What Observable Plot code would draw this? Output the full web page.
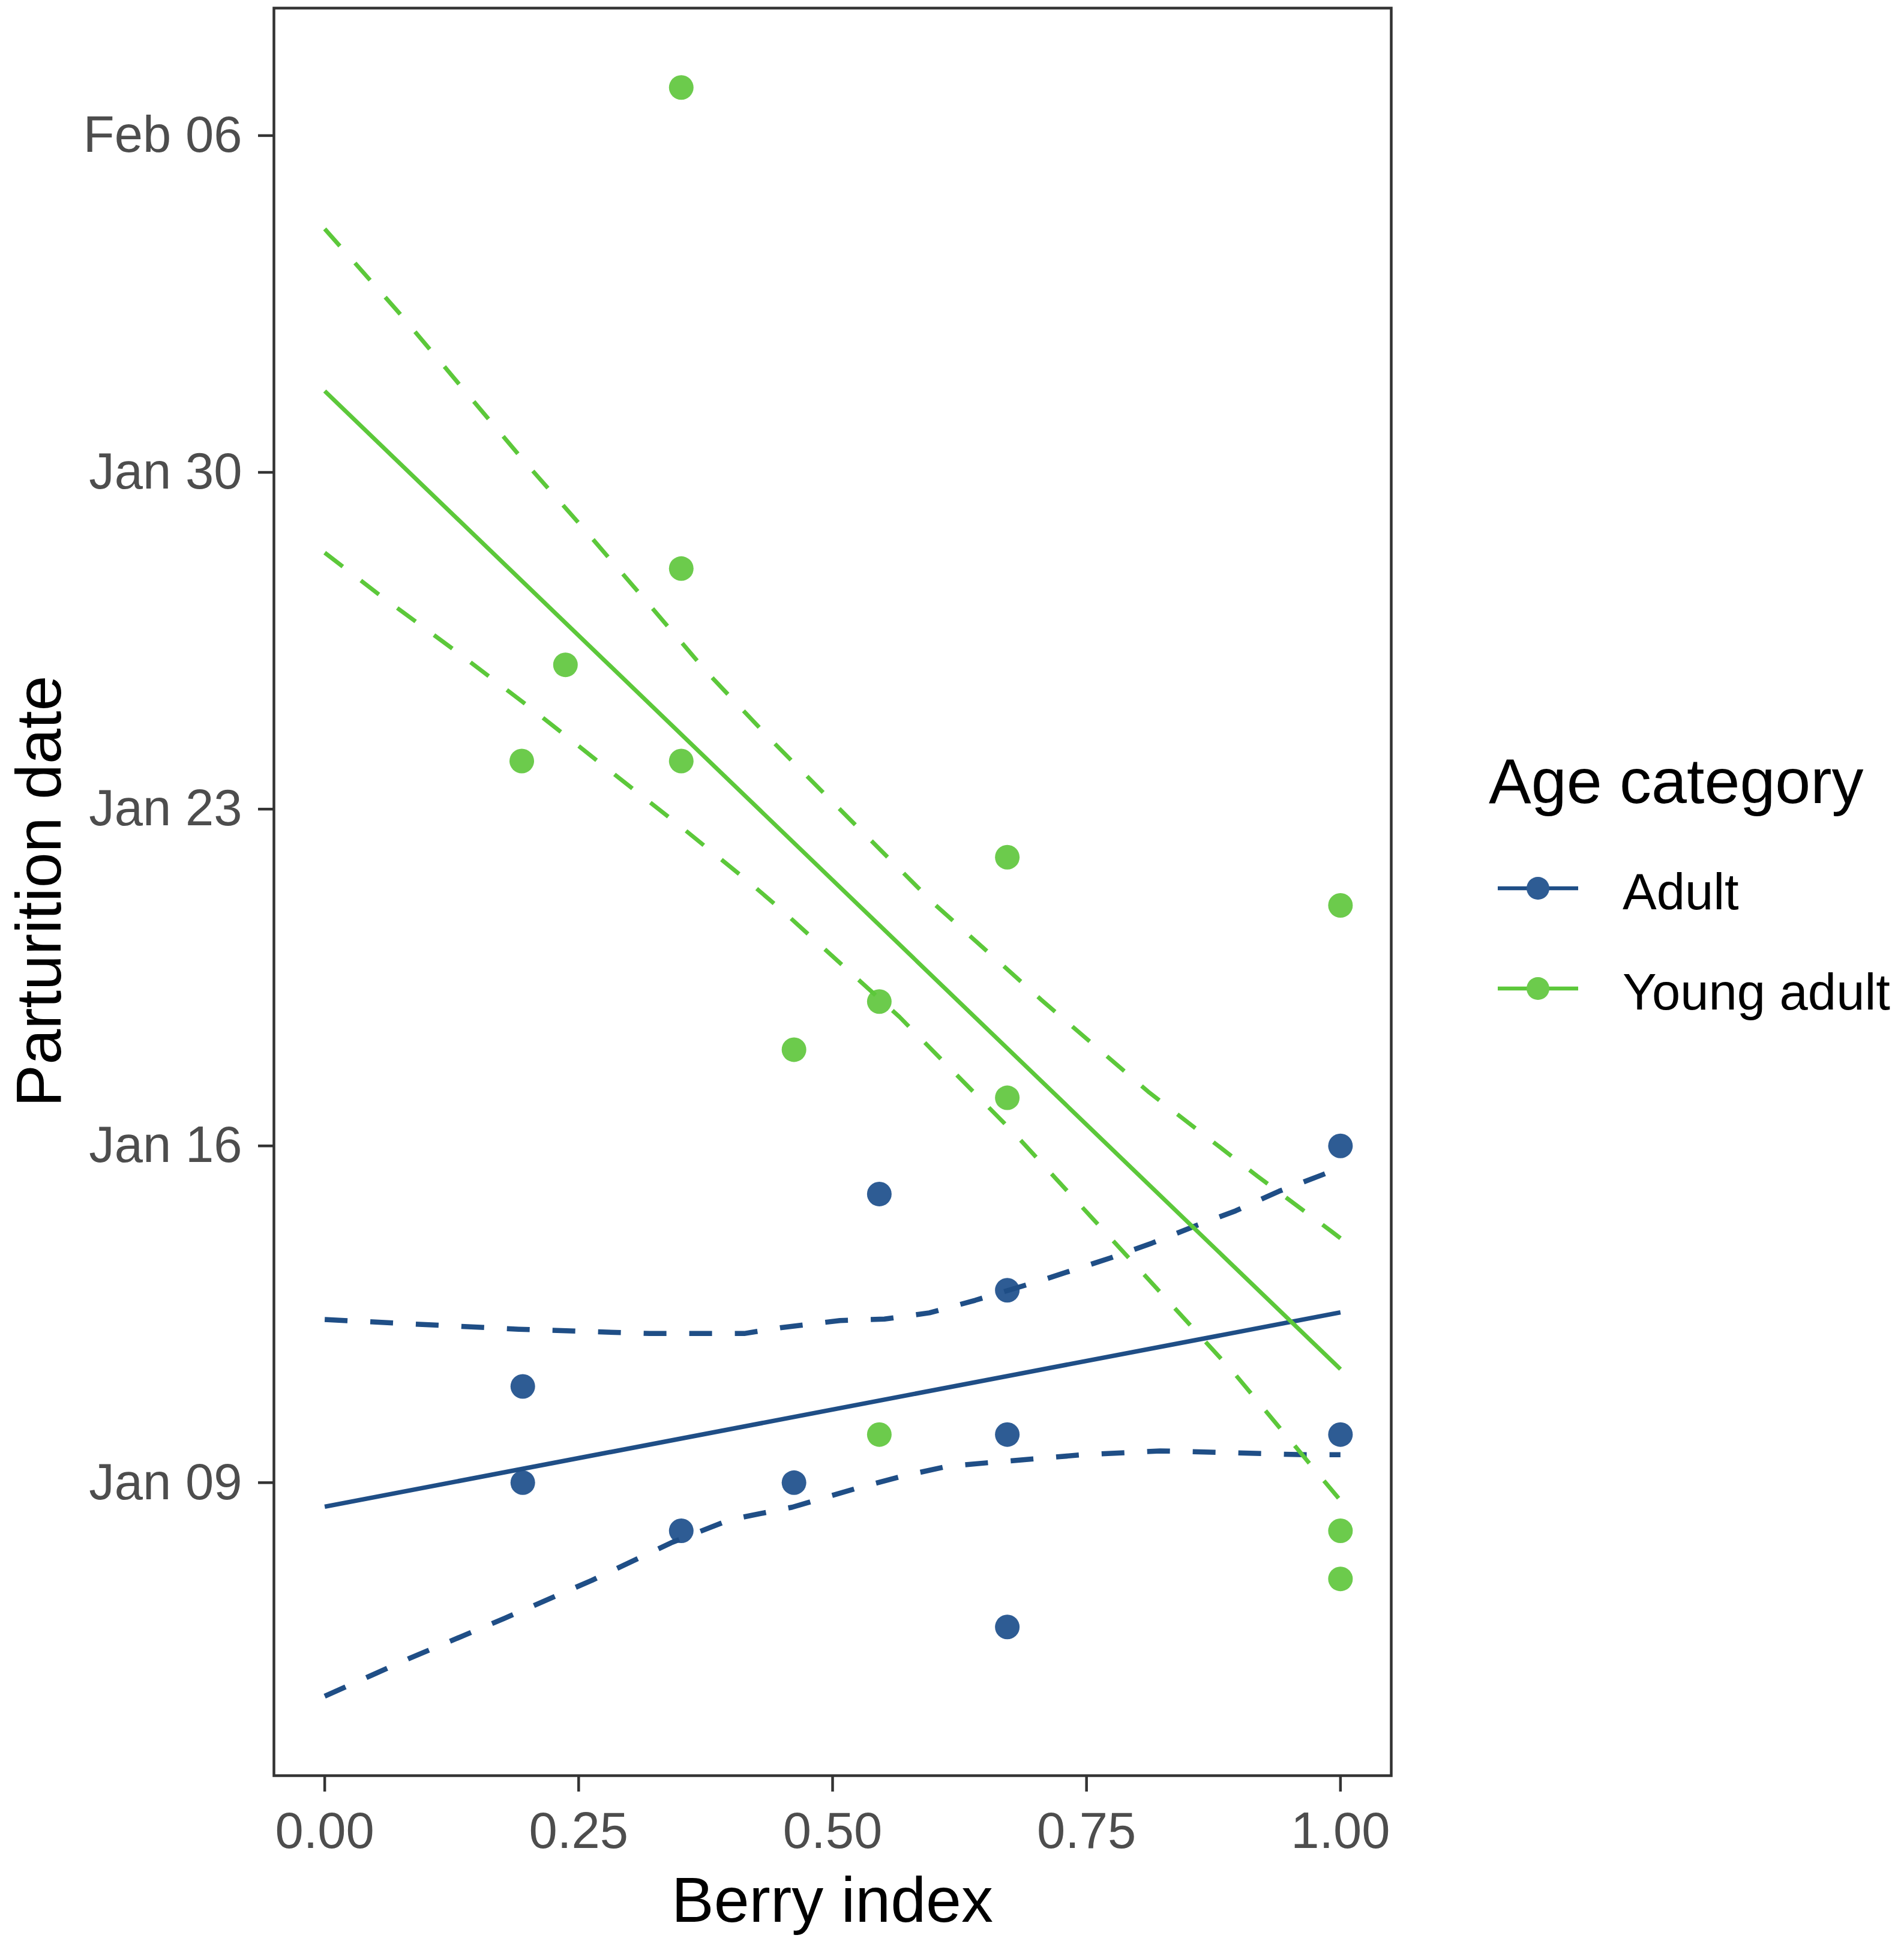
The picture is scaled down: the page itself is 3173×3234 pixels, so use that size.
<!DOCTYPE html>
<html>
<head>
<meta charset="utf-8">
<script src="https://cdn.jsdelivr.net/npm/d3@7"></script>
<script src="https://cdn.jsdelivr.net/npm/@observablehq/plot@0.6"></script>
<style>
  body { margin: 0; background: #fff; }
  #wrap { position: relative; width: 3173px; height: 3234px; font-family: 'Liberation Sans', Arial, sans-serif; }
  #legend { position: absolute; left: 0; top: 0; pointer-events: none; }
</style>
</head>
<body>
<div id="wrap"></div>
<script>
// ---------- data ----------
const ageCategories = ["Adult", "Young adult"];

// observed parturition dates
const adultBerry = [0.195, 0.195, 0.351, 0.462, 0.546, 0.672, 0.672, 0.672, 1.0, 1.0];
const adultDate  = ["2021-01-11", "2021-01-09", "2021-01-08", "2021-01-09", "2021-01-15",
                    "2021-01-13", "2021-01-10", "2021-01-06", "2021-01-16", "2021-01-10"];
const youngBerry = [0.194, 0.237, 0.351, 0.351, 0.351, 0.462, 0.546, 0.546, 0.672, 0.672, 1.0, 1.0, 1.0];
const youngDate  = ["2021-01-24", "2021-01-26", "2021-02-07", "2021-01-28", "2021-01-24", "2021-01-18",
                    "2021-01-19", "2021-01-10", "2021-01-22", "2021-01-17", "2021-01-21", "2021-01-08", "2021-01-07"];

// fitted lines and confidence bands, as day-of-January (fractional) values
const adultFitBerry = [0, 1];
const adultFitDay   = [8.50, 12.54];
const adultUpperBerry = [0, 0.191, 0.320, 0.413, 0.4484, 0.5072, 0.551, 0.5953, 0.6403, 0.7049, 0.7734, 0.8145, 0.8576, 0.8968, 0.9398, 0.981, 1.0];
const adultUpperDay   = [12.39, 12.19, 12.10, 12.10, 12.22, 12.37, 12.40, 12.53, 12.79, 13.20, 13.67, 13.98, 14.34, 14.65, 15.06, 15.39, 15.55];
const adultLowerBerry = [0, 0.0837, 0.177, 0.263, 0.341, 0.399, 0.4602, 0.5248, 0.5679, 0.6129, 0.656, 0.746, 0.8224, 0.8772, 0.9653, 1.0];
const adultLowerDay   = [4.56, 5.35, 6.18, 6.97, 7.75, 8.23, 8.49, 8.89, 9.13, 9.34, 9.42, 9.58, 9.66, 9.63, 9.58, 9.58];

const youngFitBerry = [0, 1];
const youngFitDay   = [31.69, 11.36];
const youngUpperBerry = [0, 0.0743, 0.1345, 0.1948, 0.255, 0.3134, 0.3762, 0.4389, 0.5032, 0.6011, 0.7053, 0.8106, 0.9183, 0.9907, 1.0];
const youngUpperDay   = [35.06, 33.29, 31.78, 30.27, 28.83, 27.40, 25.85, 24.45, 23.08, 21.01, 19.04, 17.13, 15.37, 14.23, 14.08];
const youngLowerBerry = [0, 0.0541, 0.1287, 0.2016, 0.2728, 0.3457, 0.4168, 0.4484, 0.5659, 0.6794, 0.8008, 0.8948, 0.9849, 1.0];
const youngLowerDay   = [28.33, 27.45, 26.29, 25.12, 23.93, 22.72, 21.50, 20.93, 18.68, 16.25, 13.46, 11.29, 9.01, 8.63];

// axes
const xTicks = [0, 0.25, 0.5, 0.75, 1];
const yTickDays = [9, 16, 23, 30, 37];       // Jan 09 ... Feb 06
const yDomainDays = [2.91, 39.65];
const xDomain = [-0.05, 1.05];
const xTitle = "Berry index";
const yTitle = "Parturition date";
const legendTitle = "Age category";

// ---------- styles ----------
const pointColors = ["#2E5C94", "#6CCB4C"];
const lineColors  = ["#1F4E86", "#5CC83A"];
const FONT = "'Liberation Sans', Arial, sans-serif";

// ---------- helpers ----------
const dayToDate = d => new Date(Date.UTC(2021, 0, 1) + (d - 1) * 864e5);
const pts = (xs, ds) => xs.map((x, i) => ({x, y: new Date(ds[i])}));
const curve = (xs, ds) => xs.map((x, i) => ({x, y: dayToDate(ds[i])}));

const W = 3173, H = 3234;
const lineSets = [
  {data: curve(adultFitBerry, adultFitDay), c: 0, dash: null, w: 7.5},
  {data: curve(adultUpperBerry, adultUpperDay), c: 0, dash: "38,38", w: 8.5},
  {data: curve(adultLowerBerry, adultLowerDay), c: 0, dash: "38,38", w: 8.5},
  {data: curve(youngFitBerry, youngFitDay), c: 1, dash: null, w: 7},
  {data: curve(youngUpperBerry, youngUpperDay), c: 1, dash: "38,38", w: 7},
  {data: curve(youngLowerBerry, youngLowerDay), c: 1, dash: "38,38", w: 7}
];

const chart = Plot.plot({
  width: W,
  height: H,
  marginLeft: 456,
  marginRight: W - 2318,
  marginTop: 13,
  marginBottom: H - 2958,
  style: {fontFamily: FONT, background: "#fff", overflow: "visible"},
  x: {domain: xDomain},
  y: {type: "utc", domain: yDomainDays.map(dayToDate)},
  marks: [
    Plot.dot(pts(adultBerry, adultDate), {x: "x", y: "y", r: 20.5, fill: pointColors[0], stroke: "none"}),
    Plot.dot(pts(youngBerry, youngDate), {x: "x", y: "y", r: 20.5, fill: pointColors[1], stroke: "none"}),
    ...lineSets.map(s => Plot.line(s.data, {
      x: "x", y: "y", stroke: lineColors[s.c], strokeWidth: s.w,
      strokeDasharray: s.dash, strokeLinecap: "butt", strokeLinejoin: "round"
    })),
    Plot.frame({stroke: "#333", strokeWidth: 4.5}),
    Plot.axisX({
      ticks: xTicks, tickFormat: d3.format(".2f"), tickSize: 27, tickPadding: 33,
      fontSize: 85, stroke: "#333", fill: "#4d4d4d", strokeWidth: 4.5, label: null
    }),
    Plot.axisY({
      ticks: yTickDays.map(dayToDate), tickFormat: d3.utcFormat("%b %d"), tickSize: 26, tickPadding: 27,
      fontSize: 85, stroke: "#333", fill: "#4d4d4d", strokeWidth: 4.5, label: null
    })
  ]
});
document.getElementById("wrap").appendChild(chart);

// ---------- axis titles and legend (overlay) ----------
const ns = "http://www.w3.org/2000/svg";
const leg = document.createElementNS(ns, "svg");
leg.setAttribute("id", "legend");
leg.setAttribute("width", W);
leg.setAttribute("height", H);
leg.setAttribute("font-family", FONT);
function el(tag, attrs, text) {
  const e = document.createElementNS(ns, tag);
  for (const k in attrs) e.setAttribute(k, attrs[k]);
  if (text != null) e.textContent = text;
  leg.appendChild(e);
  return e;
}
el("text", {x: 1387, y: 3202, "font-size": 106, fill: "#000", "text-anchor": "middle"}, xTitle);
el("text", {transform: "translate(101,1485) rotate(-90)", "font-size": 106, fill: "#000", "text-anchor": "middle"}, yTitle);
el("text", {x: 2481, y: 1338, "font-size": 106, fill: "#000"}, legendTitle);
const keyY = [1480, 1647];
const labelY = [1515, 1682];
ageCategories.forEach((cat, i) => {
  el("line", {x1: 2496, x2: 2630, y1: keyY[i], y2: keyY[i], stroke: lineColors[i], "stroke-width": 6.5});
  el("circle", {cx: 2563, cy: keyY[i], r: 19, fill: pointColors[i]});
  el("text", {x: 2704, y: labelY[i], "font-size": 85, fill: "#000"}, cat);
});
document.getElementById("wrap").appendChild(leg);
</script>
</body>
</html>
